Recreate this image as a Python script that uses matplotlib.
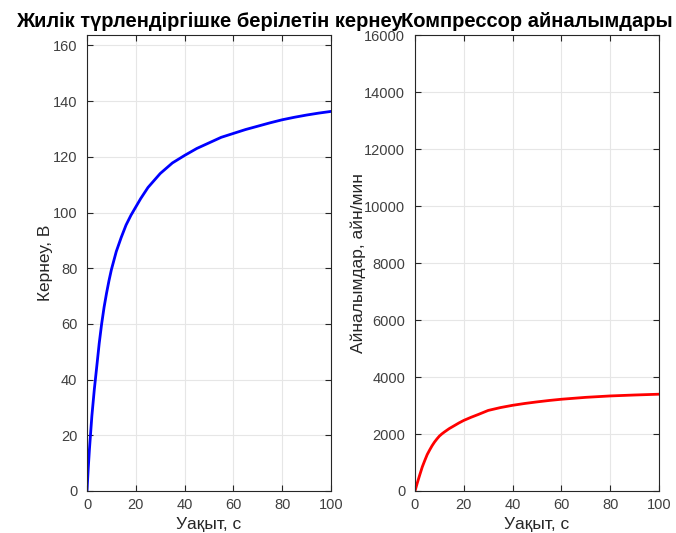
import matplotlib
matplotlib.use("Agg")
import matplotlib.pyplot as plt

plt.rcParams['font.family'] = ['Liberation Sans', 'DejaVu Sans']

# Жиілік түрлендіргішке берілетін кернеу, В
t_volt = [0, 0.5, 1, 1.5, 2, 3, 4, 5, 6, 7, 8, 9, 10, 12, 14, 16, 18, 20, 22, 25,
          28, 30, 35, 40, 45, 50, 55, 60, 65, 70, 75, 80, 85, 90, 95, 100]
volt = [0, 8, 15, 21, 27, 36.5, 44.7, 53, 60, 66, 71, 75.5, 79.5, 86, 91, 95.5,
        99, 102, 105, 109, 112, 114, 117.8, 120.5, 123, 125, 127, 128.4, 129.8,
        131, 132.2, 133.3, 134.2, 135, 135.7, 136.3]

# Компрессор айналымдары, айн/мин
t_rpm = [0, 0.5, 1, 2, 3, 4, 5, 6, 7, 8, 9, 10, 11, 12, 14, 16, 18, 20, 23, 26,
         30, 35, 40, 45, 50, 55, 60, 70, 80, 90, 100]
rpm = [0, 150, 300, 580, 850, 1070, 1280, 1440, 1590, 1720, 1830, 1930, 2005,
       2070, 2190, 2290, 2390, 2480, 2590, 2690, 2830, 2930, 3010, 3075, 3130,
       3180, 3223, 3290, 3339, 3372, 3400]

x_ticks = [0, 20, 40, 60, 80, 100]
volt_ticks = list(range(0, 161, 20))
rpm_ticks = list(range(0, 16001, 2000))

AX_COLOR = '#262626'
GRID_COLOR = '#e6e6e6'


def style_axes(ax):
    ax.grid(True, color=GRID_COLOR, linewidth=0.8)
    ax.set_axisbelow(True)
    for s in ax.spines.values():
        s.set_color(AX_COLOR)
        s.set_linewidth(0.8)
    ax.tick_params(direction='in', top=True, right=True, length=4,
                   color=AX_COLOR, labelcolor='#404040', labelsize=10.5)
    ax.tick_params(axis='y', pad=7)
    ax.tick_params(axis='x', pad=5)


fig = plt.figure(figsize=(6.76, 5.33), dpi=100)
ax1 = fig.add_axes([0.1287, 0.0788, 0.361, 0.8546])
ax2 = fig.add_axes([0.6139, 0.0788, 0.361, 0.8546])

ax1.plot(t_volt, volt, color='blue', linewidth=2)
ax1.set_xlim(0, 100)
ax1.set_ylim(0, max(volt) * 1.2)
ax1.set_xticks(x_ticks)
ax1.set_yticks(volt_ticks)
ax1.set_xlabel('Уақыт, с', fontsize=12.5, color='#262626', labelpad=4)
ax1.set_ylabel('Кернеу, В', fontsize=12.5, color='#262626', labelpad=0)
ax1.set_title('Жилік түрлендіргішке берілетін кернеу', fontsize=14.5,
              fontweight='bold', pad=6)
style_axes(ax1)

ax2.plot(t_rpm, rpm, color='red', linewidth=2)
ax2.set_xlim(0, 100)
ax2.set_ylim(0, 16000)
ax2.set_xticks(x_ticks)
ax2.set_yticks(rpm_ticks)
ax2.set_xlabel('Уақыт, с', fontsize=12.5, color='#262626', labelpad=4)
ax2.set_ylabel('Айналымдар, айн/мин', fontsize=12.5, color='#262626', labelpad=-1)
ax2.set_title('Компрессор айналымдары', fontsize=14.5, fontweight='bold', pad=6)
style_axes(ax2)

fig.savefig('out.png', dpi=100, facecolor='white')
plt.close(fig)
